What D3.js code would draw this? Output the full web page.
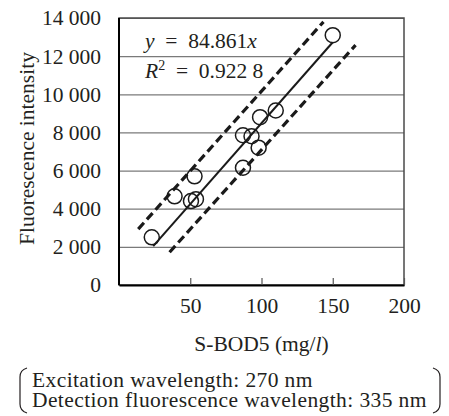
<!DOCTYPE html>
<html>
<head>
<meta charset="utf-8">
<script src="https://cdn.jsdelivr.net/npm/d3@7"></script>
<style>
  body { margin: 0; background: #fff; }
  svg text { font-family: "Liberation Serif", "Times New Roman", serif; fill: #231f20; }
</style>
</head>
<body>
<div id="chart"></div>
<script>
var bodValues = [23, 39, 53, 50.5, 54, 87, 93, 99, 98, 87, 110, 150];
var intensityValues = [2500, 4650, 5700, 4400, 4500, 7850, 7800, 8800, 7200, 6150, 9150, 13100];

var slope = 84.861,
    fitRange = [24, 150];

// dashed band end points [x, y]
var upperBand = [[13.5, 2930], [143.5, 13800]],
    lowerBand = [[35.5, 1720], [166, 12580]];

var xTicks = [50, 100, 150, 200],
    yTicks = [0, 2000, 4000, 6000, 8000, 10000, 12000, 14000];

var legendLines = ["Excitation wavelength: 270 nm", "Detection fluorescence wavelength: 335 nm"];

var margin = {top: 18, right: 45, bottom: 131, left: 119},
    width = 449 - margin.left - margin.right,
    height = 416 - margin.top - margin.bottom;

var fmt = d3.formatLocale({decimal: ".", thousands: " ", grouping: [3], currency: ["", ""]}).format(",");

var x = d3.scaleLinear()
    .domain([0, 200])
    .range([0, width]);

var y = d3.scaleLinear()
    .domain([0, 14000])
    .range([height, 0]);

var svg = d3.select("#chart").append("svg")
    .attr("width", 449)
    .attr("height", 416);

var g = svg.append("g")
    .attr("transform", "translate(" + margin.left + "," + margin.top + ")");

// gridlines + y labels
var yAxis = g.append("g")
    .attr("class", "axis axis-y")
    .call(d3.axisLeft(y).tickValues(yTicks).tickSizeInner(-width).tickSizeOuter(0).tickPadding(18).tickFormat(fmt));
yAxis.select(".domain").remove();
yAxis.selectAll("line").attr("stroke", "#7a7a7a").attr("stroke-width", 1.2);
yAxis.selectAll("text").attr("font-size", "21.5px").attr("fill", "#231f20");

// frame
g.append("rect")
    .attr("width", width)
    .attr("height", height)
    .attr("fill", "none")
    .attr("stroke", "#4a4a4a")
    .attr("stroke-width", 1.5);

var xAxis = g.append("g")
    .attr("class", "axis axis-x")
    .attr("transform", "translate(0," + height + ")")
    .call(d3.axisBottom(x).tickValues(xTicks).tickSizeInner(-7).tickSizeOuter(0).tickPadding(13));
xAxis.select(".domain").attr("stroke", "#000").attr("stroke-width", 2);
xAxis.selectAll("line").attr("stroke", "#555").attr("stroke-width", 1.2);
xAxis.selectAll("text").attr("font-size", "21.5px").attr("fill", "#231f20");

g.append("line")
    .attr("x1", 0).attr("x2", 0)
    .attr("y1", 0).attr("y2", height)
    .attr("stroke", "#000")
    .attr("stroke-width", 2);

var line = d3.line()
    .x(function(d) { return x(d[0]); })
    .y(function(d) { return y(d[1]); });

[upperBand, lowerBand].forEach(function(band) {
  g.append("path")
      .attr("d", line(band))
      .attr("fill", "none")
      .attr("stroke", "#1a1a1a")
      .attr("stroke-width", 3.2)
      .attr("stroke-dasharray", "8.5,4.5");
});

g.append("path")
    .attr("d", line(fitRange.map(function(v) { return [v, slope * v]; })))
    .attr("fill", "none")
    .attr("stroke", "#1a1a1a")
    .attr("stroke-width", 2);

g.selectAll(".dot")
    .data(bodValues)
  .enter().append("circle")
    .attr("class", "dot")
    .attr("cx", function(d) { return x(d); })
    .attr("cy", function(d, i) { return y(intensityValues[i]); })
    .attr("r", 7.5)
    .attr("fill", "none")
    .attr("stroke", "#1a1a1a")
    .attr("stroke-width", 1.5);

// equation (en spaces round "=" like the typeset original)
var eq1 = g.append("text")
    .attr("x", 26)
    .attr("y", 30)
    .attr("font-size", "21.5px");
eq1.append("tspan").attr("font-style", "italic").text("y");
eq1.append("tspan").text("\u2002=\u2002" + slope);
eq1.append("tspan").attr("font-style", "italic").text("x");

var eq2 = g.append("text")
    .attr("x", 26)
    .attr("y", 60)
    .attr("font-size", "21.5px");
eq2.append("tspan").attr("font-style", "italic").text("R");
eq2.append("tspan").attr("font-size", "14px").attr("dy", -8).text("2");
eq2.append("tspan").attr("dy", 8).text("\u2002=\u20020.922 8");

// axis titles
svg.append("text")
    .attr("x", margin.left + width / 2)
    .attr("y", 351)
    .attr("text-anchor", "middle")
    .attr("font-size", "21.5px")
    .call(function(t) {
      t.append("tspan").text("S-BOD5 (mg/");
      t.append("tspan").attr("font-style", "italic").text("l");
      t.append("tspan").text(")");
    });

svg.append("text")
    .attr("transform", "translate(34," + (margin.top + height / 2 - 3) + ") rotate(-90)")
    .attr("text-anchor", "middle")
    .attr("font-size", "21.5px")
    .text("Fluorescence intensity");

// condition note with brackets
svg.selectAll(".note")
    .data(legendLines)
  .enter().append("text")
    .attr("class", "note")
    .attr("x", 32)
    .attr("y", function(d, i) { return 387 + i * 20; })
    .attr("font-size", "21.5px")
    .attr("letter-spacing", "0.4px")
    .text(function(d) { return d; });

svg.append("path")
    .attr("d", "M27,368 Q20,370 20,377 L20,404 Q20,411 27,413")
    .attr("fill", "none")
    .attr("stroke", "#231f20")
    .attr("stroke-width", 1.2);

svg.append("path")
    .attr("d", "M433,368 Q440,370 440,377 L440,404 Q440,411 433,413")
    .attr("fill", "none")
    .attr("stroke", "#231f20")
    .attr("stroke-width", 1.2);
</script>
</body>
</html>
